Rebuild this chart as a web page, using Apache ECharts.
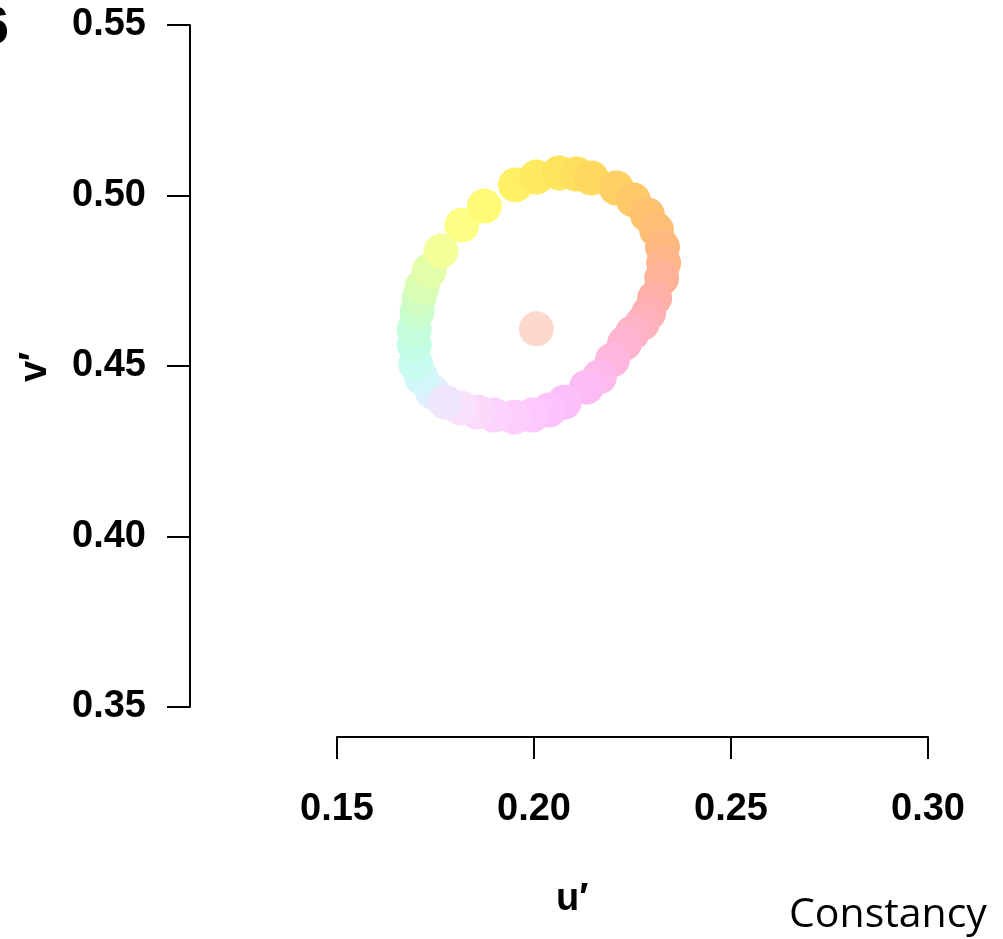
<!DOCTYPE html>
<html>
<head>
<meta charset="utf-8">
<script src="https://cdn.jsdelivr.net/npm/echarts@6/dist/echarts.min.js"></script>
<style>
html,body{margin:0;padding:0;background:#fff;}
#chart{width:1003px;height:939px;}
</style>
</head>
<body>
<div id="chart"></div>
<script>
// ring of chromaticity points (u', v')
const uValues = [0.1742,0.1715,0.1700,0.1696,0.1696,0.1703,0.1708,0.1716,0.1734,0.1764,
                 0.1817,0.1874,0.1953,0.2006,0.2064,0.2108,0.2146,0.2209,0.2252,0.2288,
                 0.2311,0.2326,0.2329,0.2324,0.2306,0.2291,0.2275,0.2250,0.2230,0.2199,
                 0.2166,0.2133,0.2077,0.2039,0.1996,0.1950,0.1899,0.1856,0.1813,0.1775];
const vValues = [0.4424,0.4465,0.4506,0.4562,0.4606,0.4658,0.4699,0.4732,0.4779,0.4837,
                 0.4913,0.4969,0.5031,0.5054,0.5066,0.5063,0.5051,0.5022,0.4987,0.4943,
                 0.4899,0.4849,0.4802,0.4758,0.4699,0.4655,0.4626,0.4597,0.4567,0.4518,
                 0.4468,0.4438,0.4394,0.4371,0.4356,0.4350,0.4356,0.4365,0.4377,0.4394];
const centerU = [0.2006];
const centerV = [0.4609];
const xTicks = [0.15, 0.20, 0.25, 0.30];
const yTicks = [0.35, 0.40, 0.45, 0.50, 0.55];

const ringColors = ['#e0effe','#d3f6fa','#c9fbf0','#c3fde6','#c4fddb','#c9fdcc','#d1fdc0','#d9fdb3','#e3fea8','#f4ff9a',
                    '#fdff85','#fffb77','#fff066','#ffea60','#ffe45e','#ffdf5e','#ffd95e','#ffd063','#ffc96a','#ffc26f',
                    '#ffbe75','#ffb97f','#ffb68a','#ffb298','#ffb0a6','#ffb0b2','#ffb2bc','#ffb3c7','#ffb5d2','#ffb7de',
                    '#fdbaea','#fbbcf3','#fbbff9','#fcc3fc','#fcc8fd','#fdcdfd','#fcd3fc','#fbd9fb','#f9e0fb','#efe6fc'];
const centerColor = '#fdd9cc';

const ringData = uValues.map((u, i) => ({value: [u, vValues[i]], itemStyle: {color: ringColors[i]}}));
const centerData = centerU.map((u, i) => [u, centerV[i]]);

const chart = echarts.init(document.getElementById('chart'), null, {renderer: 'canvas'});
const labelFont = {fontFamily: 'Liberation Sans', fontWeight: 'bold', fontSize: 38, color: '#000'};
chart.setOption({
  animation: false,
  backgroundColor: '#fff',
  grid: {left: 337, right: 75, top: 25, bottom: 232, containLabel: false},
  xAxis: {
    type: 'value', min: xTicks[0], max: xTicks[xTicks.length - 1], interval: 0.05,
    offset: 30,
    splitLine: {show: false},
    axisLine: {show: true, lineStyle: {color: '#000', width: 2}},
    axisTick: {show: true, length: 22, lineStyle: {color: '#000', width: 2}},
    axisLabel: Object.assign({margin: 54, formatter: v => v.toFixed(2)}, labelFont)
  },
  yAxis: {
    type: 'value', min: yTicks[0], max: yTicks[yTicks.length - 1], interval: 0.05,
    offset: 147,
    splitLine: {show: false},
    axisLine: {show: true, lineStyle: {color: '#000', width: 2}},
    axisTick: {show: true, length: 23, lineStyle: {color: '#000', width: 2}},
    axisLabel: Object.assign({margin: 44, formatter: v => v.toFixed(2)}, labelFont)
  },
  series: [
    {type: 'scatter', data: ringData, symbolSize: 35, itemStyle: {opacity: 1}, z: 2},
    {type: 'scatter', data: centerData, symbolSize: 35, itemStyle: {color: centerColor, opacity: 1}, z: 3}
  ],
  graphic: [
    {type: 'text', left: 556, top: 881, style: {text: 'u\u2032', font: 'bold 38px "Liberation Sans"', fill: '#000'}},
    {type: 'text', x: 36, y: 367, rotation: Math.PI / 2,
     style: {text: 'v\u2032', font: 'bold 38px "Liberation Sans"', fill: '#000', align: 'center', verticalAlign: 'middle'}},
    {type: 'text', left: 789, top: 895, style: {text: 'Constancy', font: '41px "Open Sans"', fill: '#000'}},
    {type: 'text', x: 9, y: 29, style: {text: '6', font: 'bold 52px "Liberation Sans"', fill: '#000', align: 'right', verticalAlign: 'middle'}}
  ]
});
</script>
</body>
</html>
